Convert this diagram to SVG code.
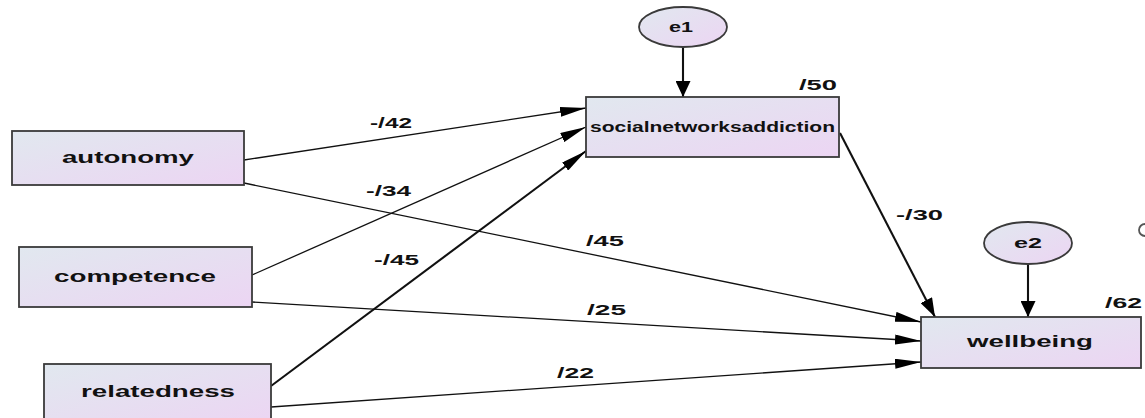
<svg xmlns="http://www.w3.org/2000/svg" width="1145" height="418" viewBox="0 0 1145 418">
  <defs>
    <linearGradient id="fill" x1="0" y1="0" x2="1" y2="1">
      <stop offset="0" stop-color="#e1e8ef"/>
      <stop offset="1" stop-color="#ecd5f3"/>
    </linearGradient>
    <marker id="ah" markerUnits="userSpaceOnUse" markerWidth="26" markerHeight="10" viewBox="0 0 26 10" refX="26" refY="5" orient="auto">
      <path d="M0,0 L26,5 L0,10 z" fill="#000"/>
    </marker>
    <marker id="am" markerUnits="userSpaceOnUse" markerWidth="19" markerHeight="13" viewBox="0 0 19 13" refX="19" refY="6.5" orient="auto">
      <path d="M0,0 L19,6.5 L0,13 z" fill="#000"/>
    </marker>
    <marker id="av" markerUnits="userSpaceOnUse" markerWidth="16" markerHeight="15" viewBox="0 0 16 15" refX="16" refY="7.5" orient="auto">
      <path d="M0,0 L16,7.5 L0,15 z" fill="#000"/>
    </marker>
  </defs>
  <style>
    .box { fill: url(#fill); stroke: #3a3a3a; stroke-width: 1.8; }
    .lbl { font-family: "Liberation Sans", Arial, sans-serif; font-weight: bold; fill: #111; }
    .node { font-size: 17px; }
    .small { font-size: 14px; }
    .num { font-size: 15px; }
    .ln { fill: none; stroke: #111; stroke-width: 1.3; }
    .thick { stroke-width: 2.1; }
  </style>
  <rect width="1145" height="418" fill="#fff"/>

  <g id="connectors">
    <path class="ln" d="M244,160 L586,108" marker-end="url(#ah)"/>
    <path class="ln" d="M252,275 L586,127" marker-end="url(#ah)"/>
    <path class="ln thick" d="M271,386 L586,151" marker-end="url(#ah)"/>
    <path class="ln" d="M244,183 L921,322" marker-end="url(#ah)"/>
    <path class="ln" d="M252,302 L921,341" marker-end="url(#ah)"/>
    <path class="ln" d="M271,407 L921,362" marker-end="url(#ah)"/>
    <path class="ln thick" d="M840,133 L935,317" marker-end="url(#am)"/>
    <path class="ln thick" d="M683,47 L683,97" marker-end="url(#av)"/>
    <path class="ln thick" d="M1028,264 L1028,317" marker-end="url(#av)"/>
  </g>

  <g id="labels">
    <text class="lbl num" x="370" y="128" textLength="42" lengthAdjust="spacingAndGlyphs">-/42</text>
    <text class="lbl num" x="366" y="196" textLength="45" lengthAdjust="spacingAndGlyphs">-/34</text>
    <text class="lbl num" x="374" y="265" textLength="45" lengthAdjust="spacingAndGlyphs">-/45</text>
    <text class="lbl num" x="586" y="246" textLength="38" lengthAdjust="spacingAndGlyphs">/45</text>
    <text class="lbl num" x="587" y="315" textLength="39" lengthAdjust="spacingAndGlyphs">/25</text>
    <text class="lbl num" x="557" y="378" textLength="37" lengthAdjust="spacingAndGlyphs">/22</text>
    <text class="lbl num" x="896" y="220" textLength="47" lengthAdjust="spacingAndGlyphs">-/30</text>
  </g>

  <g id="autonomy">
    <rect class="box" x="12" y="131" width="232" height="54"/>
    <text class="lbl node" x="62" y="163" textLength="132" lengthAdjust="spacingAndGlyphs">autonomy</text>
  </g>
  <g id="competence">
    <rect class="box" x="19" y="247" width="233" height="60"/>
    <text class="lbl node" x="54" y="282" textLength="162" lengthAdjust="spacingAndGlyphs">competence</text>
  </g>
  <g id="relatedness">
    <rect class="box" x="44" y="364" width="227" height="60"/>
    <text class="lbl node" x="81" y="397" textLength="154" lengthAdjust="spacingAndGlyphs">relatedness</text>
  </g>
  <g id="socialnetworksaddiction">
    <rect class="box" x="586" y="97" width="253" height="60"/>
    <text class="lbl small" x="590" y="132" textLength="245" lengthAdjust="spacingAndGlyphs">socialnetworksaddiction</text>
    <text class="lbl num" x="799" y="90" textLength="38" lengthAdjust="spacingAndGlyphs">/50</text>
  </g>
  <g id="wellbeing">
    <rect class="box" x="921" y="317" width="220" height="51"/>
    <text class="lbl node" x="967" y="347" textLength="126" lengthAdjust="spacingAndGlyphs">wellbeing</text>
    <text class="lbl num" x="1105" y="308" textLength="37" lengthAdjust="spacingAndGlyphs">/62</text>
  </g>
  <g id="e1">
    <ellipse class="box" cx="683" cy="27" rx="44" ry="20"/>
    <text class="lbl small" x="669" y="32" textLength="24" lengthAdjust="spacingAndGlyphs">e1</text>
  </g>
  <g id="e2">
    <ellipse class="box" cx="1028" cy="243" rx="44" ry="21"/>
    <text class="lbl small" x="1014" y="248" textLength="28" lengthAdjust="spacingAndGlyphs">e2</text>
  </g>
  <g id="edge-fragment">
    <path d="M1145,224 A6,6 0 0 0 1145,236" fill="none" stroke="#555" stroke-width="1.8"/>
  </g>
</svg>
